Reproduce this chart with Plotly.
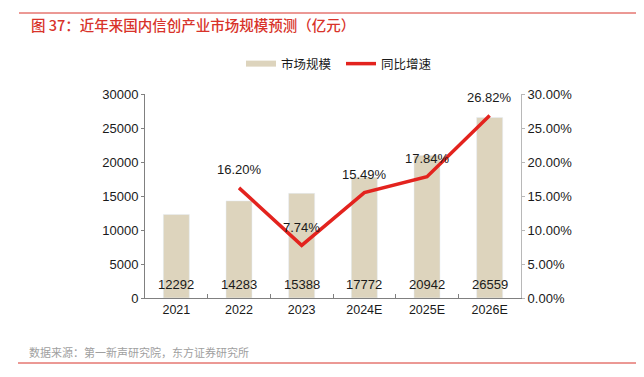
import plotly.graph_objects as go

categories = ["2021", "2022", "2023", "2024E", "2025E", "2026E"]
market_size = [12292, 14283, 15388, 17772, 20942, 26559]
growth_pct = [None, 16.20, 7.74, 15.49, 17.84, 26.82]
left_ticks = [0, 5000, 10000, 15000, 20000, 25000, 30000]
right_ticks = [0, 5, 10, 15, 20, 25, 30]

BAR = "#ddd4bd"
RED = "#e3231e"
TXT = "#1a1a1a"
FONT = "Liberation Sans, Noto Sans CJK SC, sans-serif"
CJK = "Noto Sans CJK SC, sans-serif"

# page offset (body margin) compensation
OFF = 8
L, R, T, B = 145 - OFF, 521 - OFF, 94 - OFF, 298 - OFF
W, H = 644 - OFF, 377 - OFF
def px(x):
    return (x - OFF - L) / (R - L)
def py(y):
    return (B - (y - OFF)) / (B - T)

fig = go.Figure()
fig.add_trace(go.Bar(x=categories, y=market_size, marker_color=BAR, showlegend=False,
                     hoverinfo="skip"))
fig.add_trace(go.Scatter(x=[categories[0]], y=[None], mode="lines", name="市场规模",
                         line=dict(color=BAR, width=6)))
fig.add_trace(go.Scatter(x=categories, y=growth_pct, mode="lines", name="同比增速",
                         line=dict(color=RED, width=3.5), yaxis="y2"))

annotations = []
for i, v in enumerate(market_size):
    annotations.append(dict(x=i, y=0, xref="x", yref="y", text=str(v), showarrow=False,
                            yshift=14, font=dict(size=13, color=TXT, family=FONT)))
for i, g in enumerate(growth_pct):
    if g is None:
        continue
    annotations.append(dict(x=i, y=g, xref="x", yref="y2", text=f"{g:.2f}%", showarrow=False,
                            yshift=18, font=dict(size=13, color=TXT, family=FONT)))

annotations.append(dict(x=px(29), y=py(24), xref="paper", yref="paper", xanchor="left",
                        yanchor="middle", text="图 37：近年来国内信创产业市场规模预测（亿元）",
                        showarrow=False,
                        font=dict(size=14.5, color="#d8332a", family=CJK, weight=500)))
annotations.append(dict(x=px(27), y=py(352), xref="paper", yref="paper", xanchor="left",
                        yanchor="middle", text="数据来源：第一新声研究院，东方证券研究所",
                        showarrow=False, font=dict(size=11, color="#a0a0a0", family=CJK)))

shapes = [
    dict(type="line", xref="paper", yref="paper", x0=px(19), x1=px(644), y0=py(13), y1=py(13),
         line=dict(color="#d8332a", width=1)),
    dict(type="line", xref="paper", yref="paper", x0=px(18), x1=px(644), y0=py(363), y1=py(363),
         line=dict(color="#d8332a", width=1)),
]

fig.update_layout(
    width=W, height=H,
    margin=dict(l=L, r=W - R, t=T, b=H - B, autoexpand=False),
    paper_bgcolor="white", plot_bgcolor="white",
    bargap=0.585,
    font=dict(family=FONT, size=12, color=TXT),
    showlegend=True,
    legend=dict(orientation="h", x=px(241), xanchor="left", y=py(64), yanchor="middle",
                font=dict(size=12.5, family=CJK, color=TXT), itemwidth=30,
                entrywidth=55, entrywidthmode="pixels",
                tracegroupgap=0, bgcolor="rgba(0,0,0,0)"),
    xaxis=dict(type="category", categoryorder="array", categoryarray=categories,
               showline=True, linecolor="#808080", linewidth=1, ticks="inside",
               tickson="boundaries", ticklen=4, tickcolor="#808080", tickangle=0,
               tickfont=dict(size=12.5, color=TXT), showgrid=False),
    yaxis=dict(range=[0, 30000], tickvals=left_ticks, ticktext=[str(v) for v in left_ticks],
               showline=True, linecolor="#808080", linewidth=1, ticks="outside",
               ticklen=3, tickcolor="#808080", showgrid=False, zeroline=False,
               tickfont=dict(size=13, color=TXT)),
    yaxis2=dict(range=[0, 30], overlaying="y", side="right", tickvals=right_ticks,
                ticktext=[f"{v:.2f}%" for v in right_ticks], showline=True,
                linecolor="#b8b8b8", linewidth=1, ticks="outside", ticklen=3,
                tickcolor="#b8b8b8", showgrid=False, zeroline=False,
                tickfont=dict(size=13, color=TXT)),
    annotations=annotations,
    shapes=shapes,
)

fig.write_html("out.html")
